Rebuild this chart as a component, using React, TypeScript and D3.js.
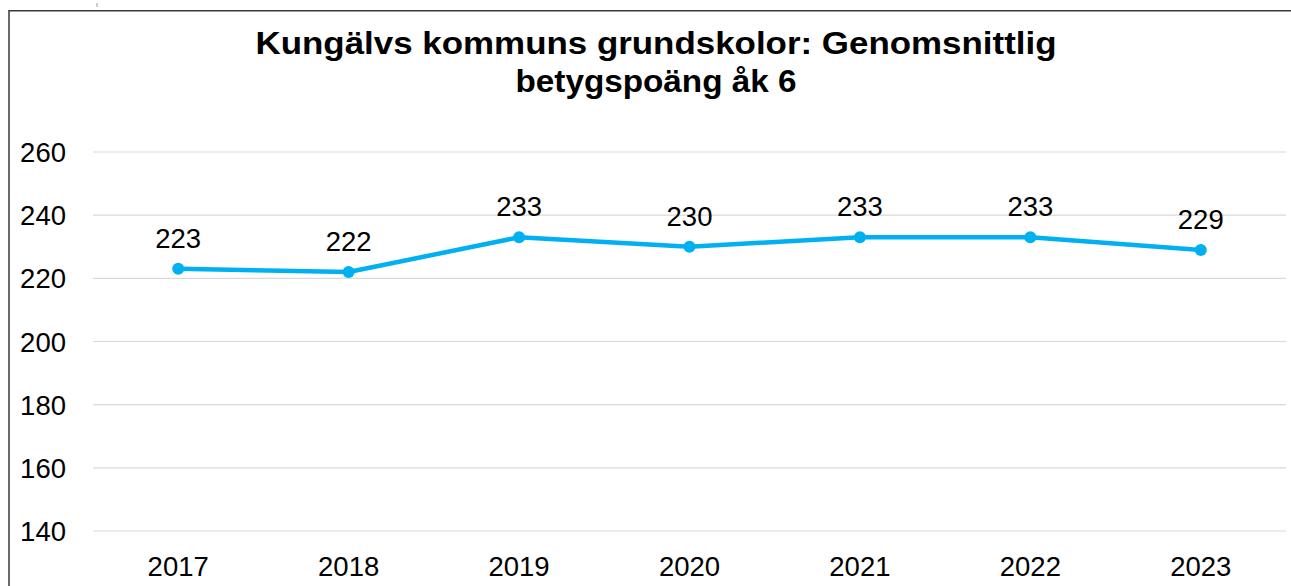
import React from "react";
import * as d3 from "d3";

const years = ["2017", "2018", "2019", "2020", "2021", "2022", "2023"];
const values = [223, 222, 233, 230, 233, 233, 229];
const yTicks = [140, 160, 180, 200, 220, 240, 260];
const titleLines = ["Kungälvs kommuns grundskolor: Genomsnittlig", "betygspoäng åk 6"];
const titleWidths = [801, 281];

const W = 1291;
const H = 586;
const FONT = "Liberation Sans, Arial, sans-serif";
const LINE_COLOR = "#00B0F0";

export default function App() {
  const x = d3.scaleBand<string>().domain(years).range([93, 1286]);
  const y = d3.scaleLinear().domain([140, 260]).range([531, 152]);
  const cx = (d: string) => (x(d) ?? 0) + x.bandwidth() / 2;
  const line = d3
    .line<number>()
    .x((_, i) => cx(years[i]))
    .y((v) => y(v));

  return (
    <svg
      width={W}
      height={H}
      style={{ position: "absolute", left: 0, top: 0, background: "#fff" }}
    >
      <rect x={0} y={0} width={W} height={H} fill="#fff" />
      <line x1={97} x2={97} y1={3} y2={7} stroke="#999" strokeWidth={1} />
      <path d={`M9,${H} L9,10.8 L${W},10.8`} fill="none" stroke="#3a3a3a" strokeWidth={1.5} />
      {titleLines.map((t, i) => (
        <text
          key={i}
          x={656}
          y={54 + i * 38}
          textAnchor="middle"
          fontFamily={FONT}
          fontWeight="bold"
          fontSize={32}
          textLength={titleWidths[i]}
          lengthAdjust="spacingAndGlyphs"
          fill="#000"
        >
          {t}
        </text>
      ))}
      {yTicks.map((t) => (
        <g key={t}>
          <line x1={93} x2={1286} y1={y(t)} y2={y(t)} stroke="#d9d9d9" strokeWidth={1.2} />
          <text
            x={66}
            y={y(t) + 10}
            textAnchor="end"
            fontFamily={FONT}
            fontSize={27.5}
            fill="#000"
          >
            {t}
          </text>
        </g>
      ))}
      {years.map((yr) => (
        <text
          key={yr}
          x={cx(yr)}
          y={576}
          textAnchor="middle"
          fontFamily={FONT}
          fontSize={27.5}
          fill="#000"
        >
          {yr}
        </text>
      ))}
      <path d={line(values) ?? ""} fill="none" stroke={LINE_COLOR} strokeWidth={4.5} strokeLinejoin="round" />
      {values.map((v, i) => (
        <g key={i}>
          <circle cx={cx(years[i])} cy={y(v)} r={6} fill={LINE_COLOR} />
          <text
            x={cx(years[i])}
            y={y(v) - 21}
            textAnchor="middle"
            fontFamily={FONT}
            fontSize={27.5}
            fill="#000"
          >
            {v}
          </text>
        </g>
      ))}
    </svg>
  );
}
